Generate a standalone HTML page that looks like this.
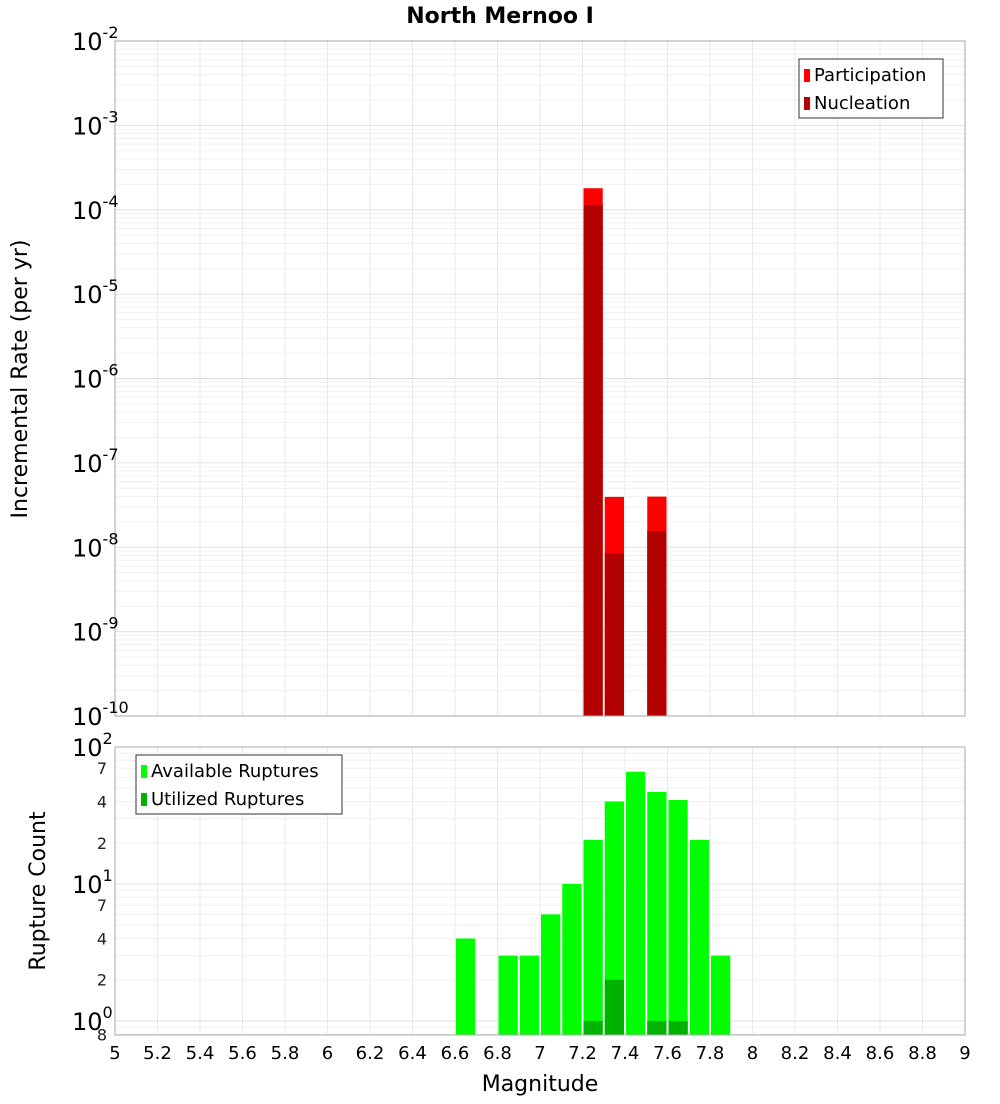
<!DOCTYPE html>
<html><head><meta charset="utf-8"><style>
body{margin:0;background:#fff;font-family:"DejaVu Sans","Liberation Sans",sans-serif}
</style></head><body>
<svg id="c" width="1000" height="1100" xmlns="http://www.w3.org/2000/svg" font-family="DejaVu Sans, Liberation Sans, sans-serif"></svg>
<script>
const binCenters=[7.25,7.35,7.55];
const participation=[1.8e-4,3.95e-8,3.98e-8];
const nucleation=[1.14e-4,8.4e-9,1.56e-8];
const countBins=[6.65,6.85,6.95,7.05,7.15,7.25,7.35,7.45,7.55,7.65,7.75,7.85];
const available=[4,3,3,6,10,21,40,66,47,41,21,3];
const utilBins=[7.25,7.35,7.55,7.65];
const utilized=[1,2,1,1];
const xTicks=[5,5.2,5.4,5.6,5.8,6,6.2,6.4,6.6,6.8,7,7.2,7.4,7.6,7.8,8,8.2,8.4,8.6,8.8,9];

const svg=document.getElementById('c');const NS='http://www.w3.org/2000/svg';
function mk(t,a,p,txt){const e=document.createElementNS(NS,t);for(const k in a)e.setAttribute(k,a[k]);if(txt!==undefined)e.textContent=txt;(p||svg).appendChild(e);return e;}
const L=115,R=965;
const xs=v=>L+(v-5)/4*(R-L);
const T1=41,B1=716;const y1=v=>T1+(-2-Math.log10(v))/8*(B1-T1);
const T2=747,B2=1035;const lmin=Math.log10(0.79),lmax=2;const y2=v=>B2-(Math.log10(v)-lmin)/(lmax-lmin)*(B2-T2);

// grids
function grid(T,B,yf,decs,minorFrom){
 xTicks.forEach(t=>{const l=mk('line',{x1:xs(t),x2:xs(t),y1:T,y2:B,stroke:'#e8e8e8'});});
 decs.forEach(d=>{for(let m=1;m<10;m++){const v=m*Math.pow(10,d);const y=yf(v);if(y<T-0.5||y>B+0.5)continue;const l=mk('line',{x1:L,x2:R,y1:y,y2:y,stroke:m==1?'#e0e0e0':'#f0f0f0'});}});
}
grid(T1,B1,y1,[-10,-9,-8,-7,-6,-5,-4,-3,-2]);
grid(T2,B2,y2,[-1,0,1,2]);

// top bars
binCenters.forEach((c,i)=>{
 const x0=xs(c-0.05)+1,x1=xs(c+0.05)-1;
 let r=mk('rect',{x:x0,y:y1(participation[i]),width:x1-x0,height:B1-y1(participation[i]),fill:'#ff0000'});
 
 r=mk('rect',{x:x0,y:y1(nucleation[i]),width:x1-x0,height:B1-y1(nucleation[i]),fill:'#b30000'});
 
});
// bottom bars
countBins.forEach((c,i)=>{
 const x0=xs(c-0.05)+1,x1=xs(c+0.05)-1;
 const r=mk('rect',{x:x0,y:y2(available[i]),width:x1-x0,height:B2-y2(available[i]),fill:'#00ff00'});
 
});
utilBins.forEach((c,i)=>{
 const x0=xs(c-0.05)+1,x1=xs(c+0.05)-1;
 const r=mk('rect',{x:x0,y:y2(utilized[i]),width:x1-x0,height:B2-y2(utilized[i]),fill:'#00b300'});
 
});
// frames
mk('rect',{x:L,y:T1,width:R-L,height:B1-T1,fill:'none',stroke:'#aaa'},null);
mk('rect',{x:L,y:T2,width:R-L,height:B2-T2,fill:'none',stroke:'#aaa'},null);

// top y tick labels
for(let d=-10;d<=-2;d++){
 const y=y1(Math.pow(10,d));
 const t=mk('text',{x:72,y:y+9,'font-size':24,fill:'#000'});
 t.textContent='10';mk('tspan',{dy:-12,'font-size':16},t,String(d));
}
// bottom y ticks
[[100,'10','2'],[10,'10','1'],[1,'10','0']].forEach(([v,b,e])=>{
 const y=y2(v);const t=mk('text',{x:72,y:y+9,'font-size':24});
 t.textContent=b;mk('tspan',{dy:-12,'font-size':16},t,e);
});
[[70,'7'],[40,'4'],[20,'2'],[7,'7'],[4,'4'],[2,'2'],[0.8,'8']].forEach(([v,s])=>{
 const t=mk('text',{x:107,y:y2(v)+6,'font-size':16,'text-anchor':'end',fill:'#222'},null,s);
});
// x ticks
xTicks.forEach(v=>{const t=mk('text',{x:xs(v),y:1059,'font-size':18,'text-anchor':'middle'},null,String(v));});

// titles
let t=mk('text',{x:500,y:23,'font-size':22,'font-weight':'bold','text-anchor':'middle'},null,'North Mernoo I');
t=mk('text',{x:540,y:1091,'font-size':22,'text-anchor':'middle'},null,'Magnitude');
t=mk('text',{x:0,y:0,'font-size':22,'text-anchor':'middle',transform:'translate(27,379) rotate(-90)'},null,'Incremental Rate (per yr)');
t=mk('text',{x:0,y:0,'font-size':22,'text-anchor':'middle',transform:'translate(45,891) rotate(-90)'},null,'Rupture Count');

// legends
function legend(x,y,w,items,nm){
 const g=mk('g',{});
 mk('rect',{x:x,y:y,width:w,height:59,fill:'#fff',stroke:'#333'},g);
 items.forEach(([c,s],i)=>{mk('rect',{x:x+5,y:y+10+i*28,width:6,height:13,fill:c},g);mk('text',{x:x+15,y:y+22+i*28,'font-size':18},g,s);});
}
legend(799,59,144,[['#ff0000','Participation'],['#b30000','Nucleation']],'top-legend');
legend(136,755,206,[['#00ff00','Available Ruptures'],['#00b300','Utilized Ruptures']],'bottom-legend');
</script>
</body></html>
